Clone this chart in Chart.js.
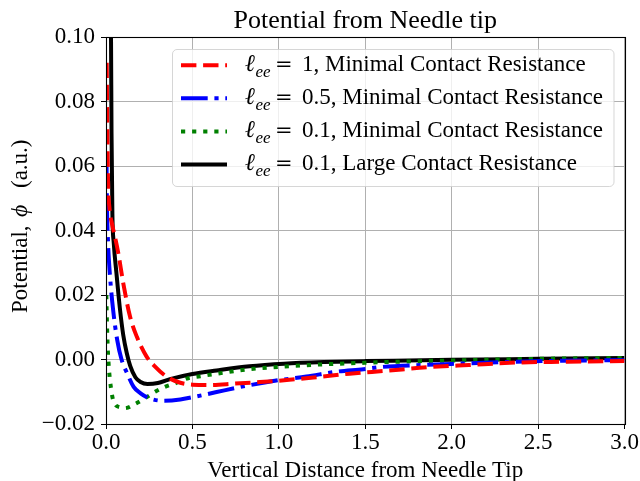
<!DOCTYPE html>
<html>
<head>
<meta charset="utf-8">
<script src="https://cdn.jsdelivr.net/npm/chart.js@4"></script>
<style>
  html, body { margin: 0; padding: 0; background: #fff; }
  #wrap { width: 640px; height: 481px; }
</style>
</head>
<body>
<div id="wrap"><canvas id="c" width="640" height="481"></canvas></div>
<script>
// ---------- data ----------
const titleText = 'Potential from Needle tip';
const xTitle = 'Vertical Distance from Needle Tip';
const xTickLabels = ['0.0', '0.5', '1.0', '1.5', '2.0', '2.5', '3.0'];
const yTickLabels = ['\u22120.02', '0.00', '0.02', '0.04', '0.06', '0.08', '0.10'];

const legendValues = ['1', '0.5', '0.1', '0.1'];
const legendDescs = ['Minimal Contact Resistance', 'Minimal Contact Resistance',
                     'Minimal Contact Resistance', 'Large Contact Resistance'];

// l_ee = 1, minimal contact resistance
const redX = [0.004, 0.008, 0.012, 0.02, 0.035, 0.052, 0.071, 0.1, 0.139, 0.178, 0.235, 0.284,
              0.35, 0.43, 0.5, 0.6, 0.74, 0.89, 1.06, 1.2, 1.41, 1.62, 1.86, 2.1, 2.4, 2.67, 3.0];
const redY = [0.092, 0.07, 0.055, 0.047, 0.042, 0.038, 0.033, 0.0236, 0.0133, 0.0071, 0.0009, -0.0022,
              -0.0053, -0.0072, -0.0078, -0.0079, -0.0075, -0.007, -0.0063, -0.0056, -0.0044, -0.0035,
              -0.0024, -0.0017, -0.0009, -0.0007, -0.0005];

// l_ee = 0.5, minimal contact resistance
const blueX = [0.003, 0.005, 0.012, 0.023, 0.042, 0.065, 0.09, 0.12, 0.16, 0.2, 0.25, 0.33, 0.43,
               0.5, 0.64, 0.76, 0.91, 1.0, 1.16, 1.33, 1.49, 1.6, 1.82, 2.09, 2.36, 2.63, 3.0];
const blueY = [0.062, 0.05, 0.036, 0.026, 0.015, 0.006, 0.0, -0.004, -0.0085, -0.0105, -0.012, -0.0128,
               -0.0124, -0.0117, -0.0101, -0.0087, -0.0072, -0.0064, -0.0053, -0.0038, -0.003, -0.0023,
               -0.0017, -0.0012, -0.0007, -0.0004, -0.0002];

// l_ee = 0.1, minimal contact resistance
const greenX = [0.002, 0.004, 0.0075, 0.013, 0.033, 0.052, 0.08, 0.11, 0.168, 0.226, 0.284, 0.341,
                0.41, 0.475, 0.544, 0.68, 0.833, 1.026, 1.26, 1.51, 1.68, 2.0, 2.5, 3.0];
const greenY = [0.02, 0.0148, 0.0076, 0.0004, -0.0104, -0.0138, -0.0148, -0.0151, -0.0138, -0.012,
                -0.010, -0.0085, -0.0072, -0.0058, -0.0052, -0.0041, -0.003, -0.0022, -0.0015, -0.001,
                -0.0007, -0.0003, 0.0002, 0.0005];

// l_ee = 0.1, large contact resistance
const blackX = [0.025, 0.029, 0.032, 0.037, 0.045, 0.06, 0.08, 0.1, 0.12, 0.14, 0.17, 0.2, 0.24,
                0.3, 0.37, 0.5, 0.64, 0.83, 1.03, 1.26, 1.5, 1.75, 2.0, 2.5, 3.0];
const blackY = [0.12, 0.10, 0.07, 0.045, 0.036, 0.027, 0.016, 0.0075, 0.002, -0.002, -0.0055, -0.007,
                -0.0076, -0.0073, -0.0061, -0.0045, -0.0034, -0.0021, -0.0013, -0.0008, -0.0005,
                -0.0003, -0.0001, 0.0002, 0.0005];

// ---------- chart ----------
const SERIF = '"Liberation Serif", "Times New Roman", serif';
const X_MIN = 0, X_MAX = 3, X_STEP = 0.5;
const Y_MIN = -0.02, Y_MAX = 0.10, Y_STEP = 0.02;
const pts = (xs, ys) => xs.map((x, i) => ({ x: x, y: ys[i] }));

function ds(xs, ys, color, dash) {
  return {
    data: pts(xs, ys), borderColor: color, borderWidth: 4, borderDash: dash,
    pointRadius: 0, fill: false, cubicInterpolationMode: 'monotone',
    borderCapStyle: 'butt', borderJoinStyle: 'round', clip: 0
  };
}

const frameAndText = {
  id: 'frameAndText',
  afterDatasetsDraw(chart) {
    const ctx = chart.ctx, a = chart.chartArea;
    ctx.save();
    // spines
    ctx.strokeStyle = '#000';
    ctx.lineWidth = 1.1;
    ctx.strokeRect(Math.round(a.left) + 0.5, Math.round(a.top) + 0.5,
                   Math.round(a.right) - Math.round(a.left), Math.round(a.bottom) - Math.round(a.top));

    // legend
    const bx = 172.5, by = 49.5, bw = 441.5, bh = 137, r = 4.5;
    ctx.beginPath();
    ctx.moveTo(bx + r, by);
    ctx.arcTo(bx + bw, by, bx + bw, by + bh, r);
    ctx.arcTo(bx + bw, by + bh, bx, by + bh, r);
    ctx.arcTo(bx, by + bh, bx, by, r);
    ctx.arcTo(bx, by, bx + bw, by, r);
    ctx.closePath();
    ctx.fillStyle = 'rgba(255,255,255,0.8)';
    ctx.fill();
    ctx.strokeStyle = 'rgba(204,204,204,0.8)';
    ctx.lineWidth = 1;
    ctx.stroke();

    const baselines = [70.7, 103.8, 136.9, 170];
    chart.data.datasets.forEach((d, i) => {
      const yb = baselines[i];
      const yl = yb - 5.5;
      ctx.save();
      ctx.strokeStyle = d.borderColor;
      ctx.lineWidth = 4;
      ctx.lineCap = 'butt';
      ctx.setLineDash(d.borderDash || []);
      ctx.beginPath();
      ctx.moveTo(181, yl);
      ctx.lineTo(227, yl);
      ctx.stroke();
      ctx.restore();

      ctx.fillStyle = '#000';
      ctx.textBaseline = 'alphabetic';
      ctx.textAlign = 'left';
      ctx.font = 'italic 24px ' + SERIF;
      ctx.fillText('\u2113', 245, yb);
      ctx.font = 'italic 17px ' + SERIF;
      ctx.fillText('ee', 255.5, yb + 6);
      ctx.font = '21px "DejaVu Serif", serif';
      ctx.fillText('=', 275, yb);
      ctx.font = '23px ' + SERIF;
      ctx.fillText(legendValues[i] + ', ' + legendDescs[i], 302, yb);
    });

    // title
    ctx.textAlign = 'center';
    ctx.font = '26px ' + SERIF;
    ctx.fillText(titleText, (a.left + a.right) / 2, 28.3);
    // x title
    ctx.font = '23px ' + SERIF;
    ctx.fillText(xTitle, (a.left + a.right) / 2, 477);
    // y title (rotated)
    ctx.save();
    ctx.translate(26.5, 313);
    ctx.rotate(-Math.PI / 2);
    ctx.textAlign = 'left';
    const parts = [['Potential,', '23px ', 0], ['\u03D5', 'italic 24px ', 96], ['(a.u.)', '23px ', 125]];
    parts.forEach(p => {
      ctx.font = p[1] + SERIF;
      ctx.fillText(p[0], p[2], 0);
    });
    ctx.restore();
    ctx.restore();
  }
};

new Chart(document.getElementById('c'), {
  type: 'line',
  data: {
    datasets: [
      ds(redX, redY, '#ff0000', [15.4, 6.7]),
      ds(blueX, blueY, '#0000ff', [26.7, 6.7, 4.2, 6.7]),
      ds(greenX, greenY, '#008000', [4.2, 6.9]),
      ds(blackX, blackY, '#000000', [])
    ]
  },
  options: {
    responsive: false,
    animation: false,
    events: [],
    layout: { padding: { top: 37, right: 15.5, left: 0, bottom: 0 } },
    plugins: { legend: { display: false }, title: { display: false }, tooltip: { enabled: false } },
    scales: {
      x: {
        type: 'linear', min: X_MIN, max: X_MAX,
        afterFit: s => { s.height = 57; },
        border: { display: false },
        grid: { color: '#b0b0b0', lineWidth: 1, tickColor: '#000', tickLength: 5, tickWidth: 1 },
        ticks: {
          stepSize: X_STEP, maxRotation: 0, autoSkip: false, padding: 0, color: '#000',
          font: { family: SERIF, size: 23 },
          callback: v => xTickLabels[Math.round((v - X_MIN) / X_STEP)]
        }
      },
      y: {
        type: 'linear', min: Y_MIN, max: Y_MAX,
        afterFit: s => { s.width = 106; },
        border: { display: false },
        grid: { color: '#b0b0b0', lineWidth: 1, tickColor: '#000', tickLength: 5, tickWidth: 1 },
        ticks: {
          stepSize: Y_STEP, autoSkip: false, padding: 6, color: '#000',
          font: { family: SERIF, size: 23 },
          callback: v => yTickLabels[Math.round((v - Y_MIN) / Y_STEP)]
        }
      }
    }
  },
  plugins: [frameAndText]
});
</script>
</body>
</html>
